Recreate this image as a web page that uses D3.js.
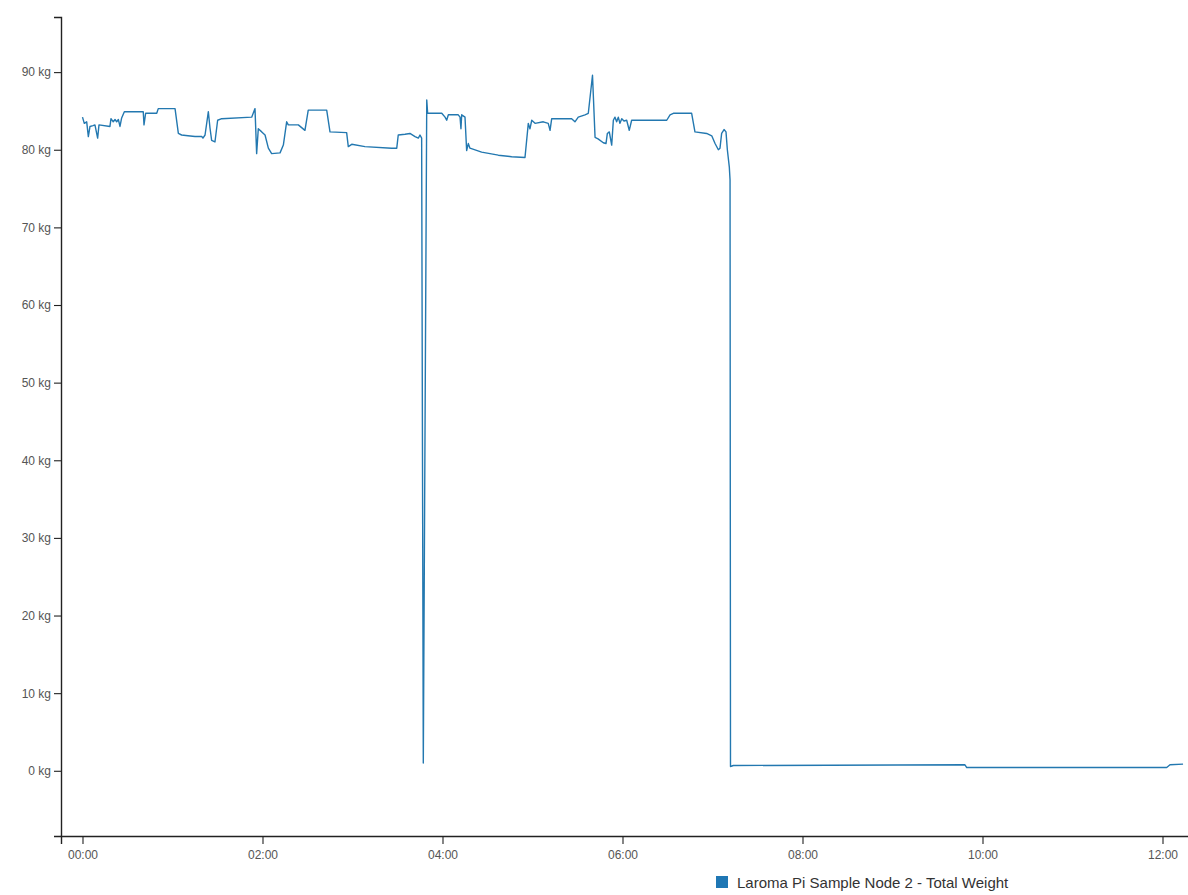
<!DOCTYPE html>
<html>
<head>
<meta charset="utf-8">
<script src="https://cdn.jsdelivr.net/npm/d3@7"></script>
<style>
  html, body { margin: 0; padding: 0; background: #fff; }
  svg { display: block; font-family: "Liberation Sans", Arial, sans-serif; }
</style>
</head>
<body>
<svg id="chart" width="1188" height="895"></svg>
<script>
// ---- data (minutes after 00:00, kg) ----
const seriesName = "Laroma Pi Sample Node 2 - Total Weight";
const minutes = [
  0, 1.2, 2.8, 3.9, 5.0, 7.0, 8.3, 10.1, 11.0, 18.3, 19.0, 20.5, 21.7, 22.8, 23.9, 25.0, 26.1, 27.9,
  40.5, 41.0, 42.1, 49.5, 50.5, 61.7, 63.9, 66.1, 70.3, 75.0, 79.5, 80.3, 81.7, 83.9, 85.0, 86.1,
  88.3, 90.1, 92.8, 112.8, 115.0, 116.1, 117.2, 119.5, 121.7, 123.9, 126.1, 131.7, 133.9, 136.1,
  137.2, 143.9, 148.3, 150.5, 162.8, 165.0, 176.1, 177.2, 179.5, 188.3, 206.1, 209.5, 210.5, 215.0,
  218.3, 221.7, 223.9, 225.0, 226.1, 227.2, 229.5, 230.1, 239.5, 241.7, 242.8, 243.9, 250.5, 251.7,
  252.3, 252.8, 255.0, 256.1, 257.2, 258.3, 266.1, 277.2, 286.1, 295.0, 297.2, 298.3, 299.5, 301.7,
  307.2, 310.5, 311.7, 312.8, 326.1, 328.3, 330.5, 335.0, 337.2, 340.0, 341.7, 343.7, 347.2, 349.0,
  349.9, 351.2, 352.8, 353.9, 355.0, 356.1, 357.2, 358.3, 359.5, 361.0, 362.8, 364.5, 366.1, 389.5,
  391.7, 393.9, 406.1, 408.3, 416.1, 419.5, 421.7, 423.9, 425.0, 426.1, 427.7, 429.0, 429.9, 431.2,
  431.7, 432.0, 433.9, 588.3, 589.5, 722.8, 725.0, 733.7
];
const weightKg = [
  84.2, 83.4, 83.6, 81.7, 83.0, 83.1, 83.2, 81.5, 83.2, 83.0, 84.0, 83.6, 83.9, 83.6, 83.9, 83.0, 84.1, 84.9,
  84.9, 83.2, 84.7, 84.7, 85.3, 85.3, 82.1, 81.9, 81.8, 81.7, 81.7, 81.5, 81.9, 84.9, 82.8, 81.2,
  81.0, 83.8, 84.0, 84.2, 85.3, 79.5, 82.7, 82.3, 81.9, 80.2, 79.5, 79.6, 80.6, 83.6,
  83.2, 83.2, 82.5, 85.1, 85.1, 82.3, 82.2, 80.4, 80.7, 80.4, 80.2, 80.2, 81.9, 82.0,
  82.1, 81.7, 81.5, 81.9, 81.5, 1.0, 86.4, 84.7, 84.7, 84.2, 83.8, 84.5, 84.5, 84.2,
  82.7, 84.5, 84.2, 79.9, 80.8, 80.2, 79.7, 79.3, 79.1, 79.0, 83.4, 82.7, 83.8, 83.4,
  83.6, 83.4, 82.5, 84.0, 84.0, 83.6, 84.2, 84.5, 84.7, 89.6, 81.6, 81.4, 80.9, 80.8,
  82.1, 82.3, 80.6, 83.8, 84.2, 83.6, 84.2, 83.4, 84.0, 83.7, 83.8, 82.5, 83.8, 83.8,
  84.5, 84.7, 84.7, 82.3, 82.1, 81.8, 80.8, 80.0, 80.2, 82.1, 82.6, 82.3, 80.0, 77.8,
  76.1, 0.55, 0.68, 0.77, 0.42, 0.42, 0.77, 0.86
];
const yTicks = [0, 10, 20, 30, 40, 50, 60, 70, 80, 90];
const xTickHours = [0, 2, 4, 6, 8, 10, 12];
const yDomain = [-8.4, 97.1];
const xDomainMinutes = [-14.33, 745];

// ---- build ----
const base = new Date(2000, 0, 1, 0, 0, 0);
const toDate = m => new Date(base.getTime() + m * 60000);
const data = minutes.map((m, i) => ({ t: toDate(m), v: weightKg[i] }));

const svg = d3.select("#chart");
const x = d3.scaleTime().domain(xDomainMinutes.map(toDate)).range([61, 1200]);
const y = d3.scaleLinear().domain(yDomain).range([836, 17]);

const line = d3.line().x(d => x(d.t)).y(d => y(d.v));
svg.append("path")
  .datum(data)
  .attr("d", line)
  .attr("fill", "none")
  .attr("stroke", "#2378b0")
  .attr("stroke-width", 1.4)
  .attr("stroke-linejoin", "round");

const yAxis = svg.append("g")
  .attr("transform", "translate(61,0)")
  .call(d3.axisLeft(y).tickValues(yTicks).tickFormat(d => d + " kg").tickSize(7).tickPadding(3));
const xAxis = svg.append("g")
  .attr("transform", "translate(0,836)")
  .call(d3.axisBottom(x).tickValues(xTickHours.map(h => toDate(h * 60))).tickFormat(d3.timeFormat("%H:%M")).tickSize(8).tickPadding(6));

[yAxis, xAxis].forEach(g => {
  g.selectAll("path.domain").attr("stroke", "#222").attr("stroke-width", 1.4);
  g.selectAll(".tick line").attr("stroke", "#222").attr("stroke-width", 1.1);
  g.selectAll(".tick text").attr("fill", "#555").style("font-size", "12px")
    .style("font-family", "'Liberation Sans', Arial, sans-serif");
});

// legend
const legend = svg.append("g").attr("transform", "translate(716,876)");
legend.append("rect").attr("width", 12).attr("height", 12).attr("fill", "#1f77b4");
legend.append("text").attr("x", 21).attr("y", 12).attr("fill", "#333")
  .style("font-size", "15px").style("font-family", "'Liberation Sans', Arial, sans-serif")
  .text(seriesName);
</script>
</body>
</html>
